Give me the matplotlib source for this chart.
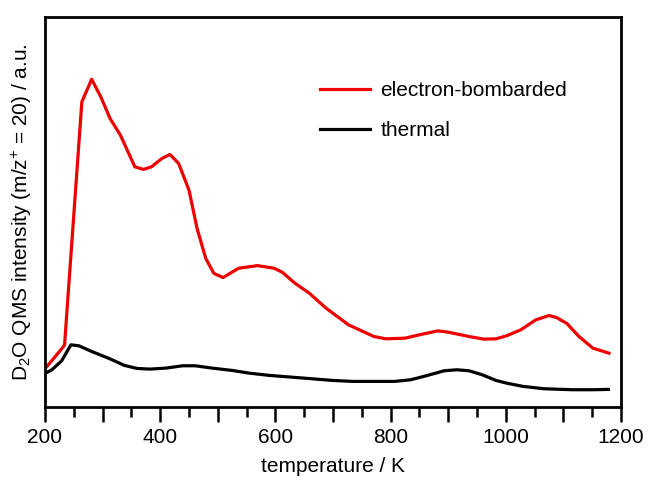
import numpy as np
import matplotlib.pyplot as plt

plt.rcParams['font.family'] = ['Liberation Sans', 'DejaVu Sans']
plt.rcParams['mathtext.fontset'] = 'custom'
plt.rcParams['mathtext.rm'] = 'Liberation Sans'
plt.rcParams['mathtext.it'] = 'Liberation Sans:italic'

# electron-bombarded curve (arbitrary units)
temp_eb = [201, 230, 234, 264, 281, 297, 313, 331, 356, 371, 385, 403, 417, 432,
           450, 464, 479, 493, 509, 536, 569, 598, 612, 634, 659, 688, 727, 771,
           792, 825, 850, 882, 900, 936, 962, 983, 1001, 1026, 1052, 1075, 1088,
           1106, 1127, 1151, 1179]
int_eb = [11.7, 17.7, 18.7, 91.7, 98.5, 93.2, 86.7, 81.7, 72.2, 71.4, 72.2, 74.7,
          75.9, 73.2, 65.2, 53.7, 44.7, 40.2, 38.9, 41.7, 42.5, 41.7, 40.5, 37.2,
          34.2, 29.7, 24.7, 21.2, 20.5, 20.7, 21.7, 22.9, 22.5, 21.2, 20.4, 20.5,
          21.4, 23.2, 26.2, 27.5, 26.9, 25.1, 21.2, 17.7, 16.2]

# thermal curve
temp_th = [201, 212, 229, 245, 259, 281, 310, 338, 360, 382, 410, 439, 461, 490,
           525, 554, 590, 627, 663, 699, 735, 771, 807, 835, 864, 893, 915, 936,
           959, 983, 1001, 1030, 1066, 1116, 1152, 1178]
int_th = [10.2, 11.2, 13.9, 18.7, 18.4, 16.7, 14.7, 12.5, 11.6, 11.4, 11.7, 12.4,
          12.4, 11.7, 11.0, 10.2, 9.5, 9.0, 8.5, 8.0, 7.7, 7.7, 7.7, 8.2, 9.5, 10.9,
          11.2, 10.9, 9.7, 8.0, 7.2, 6.2, 5.5, 5.2, 5.2, 5.3]

major_ticks = [200, 300, 400, 500, 600, 700, 800, 900, 1000, 1100, 1200]
major_labels = ['200', '', '400', '', '600', '', '800', '', '1000', '', '1200']
minor_ticks = [250, 350, 450, 550, 650, 750, 850, 950, 1050, 1150]

fig = plt.figure(figsize=(6.48, 4.8), dpi=100)
ax = fig.add_axes([0.0694, 0.152, 0.889, 0.8125])

ax.plot(temp_eb, int_eb, color='#ee0000', lw=2.3, label='electron-bombarded')
ax.plot(temp_th, int_th, color='black', lw=2.3, label='thermal')

ax.set_xlim(200, 1200)
ax.set_ylim(0, 117.2)
ax.set_xticks(major_ticks)
ax.set_xticklabels(major_labels)
ax.set_xticks(minor_ticks, minor=True)
ax.set_yticks([])
ax.tick_params(axis='x', which='major', direction='out', length=11, width=1.8,
               labelsize=15, pad=4)
ax.tick_params(axis='x', which='minor', direction='out', length=7, width=1.8)
for s in ax.spines.values():
    s.set_linewidth(2)

ax.set_xlabel('temperature / K', fontsize=15, labelpad=7)
ax.set_ylabel('D$_2$O QMS intensity (m/z$^{+}$ = 20) / a.u.', fontsize=15,
              labelpad=8)

ax.legend(loc='upper left', bbox_to_anchor=(0.477, 0.835), frameon=False,
          fontsize=15, handlelength=2.4, handletextpad=0.5, labelspacing=1.0,
          borderpad=0, borderaxespad=0)

fig.savefig('out.png', dpi=100)
